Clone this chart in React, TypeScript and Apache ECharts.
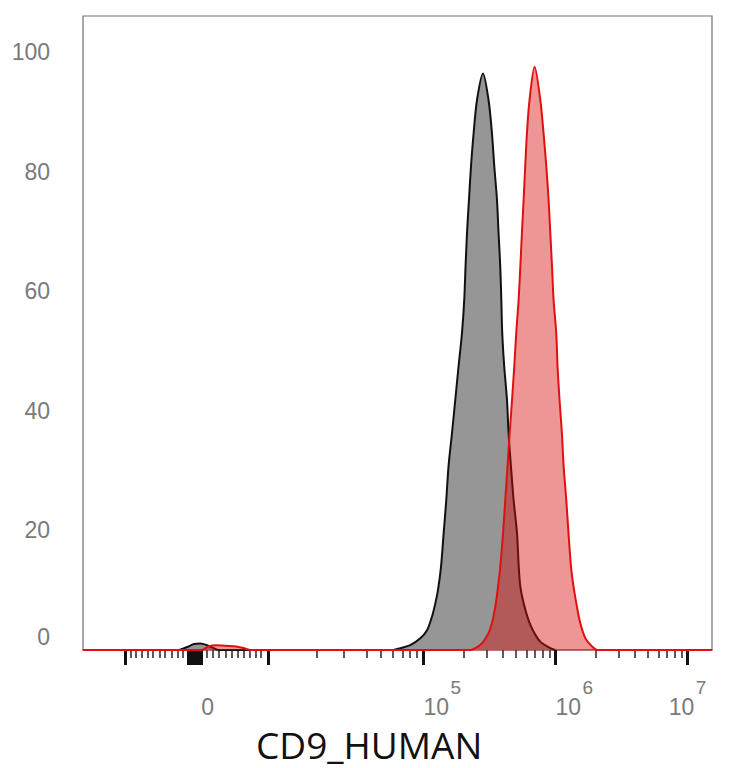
import React, { useEffect, useRef } from "react";
import * as echarts from "echarts";

// Display scale in decade units (10^5 -> 5, 10^6 -> 6, 10^7 -> 7); near-zero region is linear-ish
const xMin = 2.42;
const xMax = 7.185;

const majorTicks = [2.74, 3.218, 3.232, 3.246, 3.26, 3.274, 3.288, 3.302, 3.316, 3.826, 5, 6, 7];
const minorTicks = [
  2.778, 2.823, 2.867, 2.912, 2.952, 2.998, 3.043, 3.094, 3.134, 3.177,
  3.359, 3.405, 3.452, 3.498, 3.548, 3.594, 3.634, 3.68, 3.725, 3.768,
  4.187, 4.394, 4.566, 4.672, 4.768, 4.844, 4.899, 4.95,
  5.301, 5.477, 5.602, 5.699, 5.778, 5.845, 5.903, 5.954,
  6.301, 6.477, 6.602, 6.699, 6.778, 6.845, 6.903, 6.954,
];
const labelValues = [3.365, 5, 6, 7];
const labelBases = ["0", "10", "10", "10"];
const labelExponents = ["", "5", "6", "7"];

const isotypeX = [
  3.15, 3.21, 3.26, 3.31, 3.36, 3.41, 3.45,
  4.77, 4.823, 4.899, 4.975, 5.026, 5.064, 5.089, 5.109, 5.132, 5.152, 5.172, 5.189, 5.215, 5.24, 5.265, 5.291, 5.308, 5.318, 5.329, 5.344, 5.359, 5.379, 5.405, 5.45,
  5.492, 5.518, 5.536, 5.556, 5.568, 5.581, 5.589, 5.596, 5.611, 5.632, 5.644, 5.662, 5.682, 5.708, 5.721, 5.733, 5.758, 5.795, 5.833, 5.884, 5.96, 5.997,
];
const isotypeY = [
  0, 0.5, 1.0, 1.1, 0.8, 0.3, 0,
  0, 0.3, 0.8, 1.95, 3.3, 5.6, 7.8, 10, 13.9, 19.5, 25.1, 30.7, 36.2, 41.8, 47.4, 53, 58.5, 64.1, 69.7, 75.3, 80.8, 86.4, 92, 96.4,
  92, 86.4, 80.8, 75.3, 69.7, 64.1, 58.5, 53, 47.4, 41.8, 36.2, 30.7, 25.1, 19.5, 13.9, 10.6, 7.8, 5, 3.1, 1.4, 0.3, 0,
];

const cd9X = [
  2.42, 3.32, 3.37, 3.43, 3.5, 3.58, 3.64, 3.69,
  5.354, 5.399, 5.442, 5.492, 5.518, 5.543, 5.561, 5.581, 5.602, 5.619, 5.636, 5.652, 5.67, 5.687, 5.702, 5.72, 5.733, 5.745, 5.758, 5.77, 5.783, 5.803, 5.841,
  5.884, 5.909, 5.93, 5.947, 5.96, 5.973, 5.985, 6.005, 6.015, 6.03, 6.048, 6.061, 6.081, 6.098, 6.117, 6.136, 6.162, 6.187, 6.225, 6.276, 6.316, 7.185,
];
const cd9Y = [
  0, 0, 0.6, 0.8, 0.7, 0.6, 0.3, 0,
  0, 0.4, 1.1, 2.8, 4.5, 7.2, 10, 13.9, 19.5, 25.1, 30.7, 36.2, 41.8, 47.4, 53, 58.5, 64.1, 69.7, 75.3, 80.8, 86.4, 92, 97.5,
  92, 86.4, 80.8, 75.3, 69.7, 64.1, 58.5, 53, 47.4, 41.8, 36.2, 30.7, 25.1, 19.5, 13.9, 10.6, 7.2, 4.5, 2, 0.6, 0, 0,
];

const yTicks = [0, 20, 40, 60, 80, 100];

export default function App() {
  const ref = useRef<HTMLDivElement>(null);
  useEffect(() => {
    if (!ref.current) return;
    const chart = echarts.init(ref.current, null, { renderer: "svg" });
    const labelFont = "Liberation Sans";
    const gray = "#7a7a7a";
    chart.setOption({
      animation: false,
      backgroundColor: "#ffffff",
      title: {
        text: "CD9_HUMAN",
        left: 251,
        top: 721,
        textStyle: { fontFamily: "Open Sans", fontSize: 37, lineHeight: 36, fontWeight: "normal", color: "#111" },
      },
      grid: {
        left: 83,
        right: 22,
        top: 16,
        bottom: 118,
        show: true,
        borderColor: "#707070",
        borderWidth: 1.2,
        backgroundColor: "#ffffff",
      },
      xAxis: [
        {
          type: "value",
          min: xMin,
          max: xMax,
          position: "bottom",
          axisLine: { show: true, lineStyle: { color: "#c45a5a", width: 1.5 } },
          splitLine: { show: false },
          axisTick: { show: true, customValues: majorTicks, length: 15, lineStyle: { color: "#111", width: 3 } },
          axisLabel: {
            show: true,
            customValues: labelValues,
            margin: 28,
            align: "left",
            alignMinLabel: "center",
            alignMaxLabel: "center",
            formatter: (v: number) => {
              const i = labelValues.findIndex((x) => Math.abs(x - v) < 1e-6);
              if (i < 0) return "";
              const e = labelExponents[i];
              if (!e) return `{e| }\n{z|${labelBases[i]}}`;
              return `{s|${e}}\n{b|${labelBases[i]}}`;
            },
            rich: {
              b: { fontFamily: labelFont, fontSize: 23, color: gray, lineHeight: 22, align: "left" },
              s: { fontFamily: labelFont, fontSize: 19, color: gray, lineHeight: 18, padding: [0, 0, 0, 27], align: "left" },
              e: { fontFamily: labelFont, fontSize: 19, color: gray, lineHeight: 18 },
              z: { fontFamily: labelFont, fontSize: 23, color: gray, lineHeight: 22 },
            },
          },
        },
        {
          type: "value",
          min: xMin,
          max: xMax,
          position: "bottom",
          axisLine: { show: false },
          splitLine: { show: false },
          axisTick: { show: true, customValues: minorTicks, length: 8, lineStyle: { color: "#333", width: 1.6 } },
          axisLabel: { show: false },
        },
      ],
      yAxis: {
        type: "value",
        min: 0,
        max: 106,
        interval: 20,
        axisLine: { show: false },
        axisTick: { show: false },
        splitLine: { show: false },
        axisLabel: {
          show: true,
          customValues: yTicks,
          margin: 33,
          fontFamily: labelFont,
          fontSize: 23,
          color: gray,
          formatter: (v: number) => (v === 0 ? "{z|0}" : String(v)),
          rich: {
            z: { fontFamily: labelFont, fontSize: 23, color: gray, padding: [0, 0, 26, 0] },
          },
        },
      },
      series: [
        {
          name: "Isotype",
          type: "line",
          xAxisIndex: 0,
          showSymbol: false,
          symbol: "none",
          smooth: 0.3,
          data: isotypeX.map((x, i) => [x, isotypeY[i]]),
          lineStyle: { color: "#111", width: 2 },
          areaStyle: { color: "#969696", opacity: 1 },
          z: 2,
        },
        {
          name: "CD9",
          type: "line",
          xAxisIndex: 0,
          showSymbol: false,
          symbol: "none",
          smooth: 0.3,
          data: cd9X.map((x, i) => [x, cd9Y[i]]),
          lineStyle: { color: "#e01010", width: 2 },
          areaStyle: { color: "rgba(215,12,12,0.43)", opacity: 1 },
          z: 3,
        },
      ],
    });
    return () => chart.dispose();
  }, []);
  return (
    <div
      ref={ref}
      style={{ position: "fixed", left: 0, top: 0, width: 734, height: 768, background: "#fff" }}
    />
  );
}
